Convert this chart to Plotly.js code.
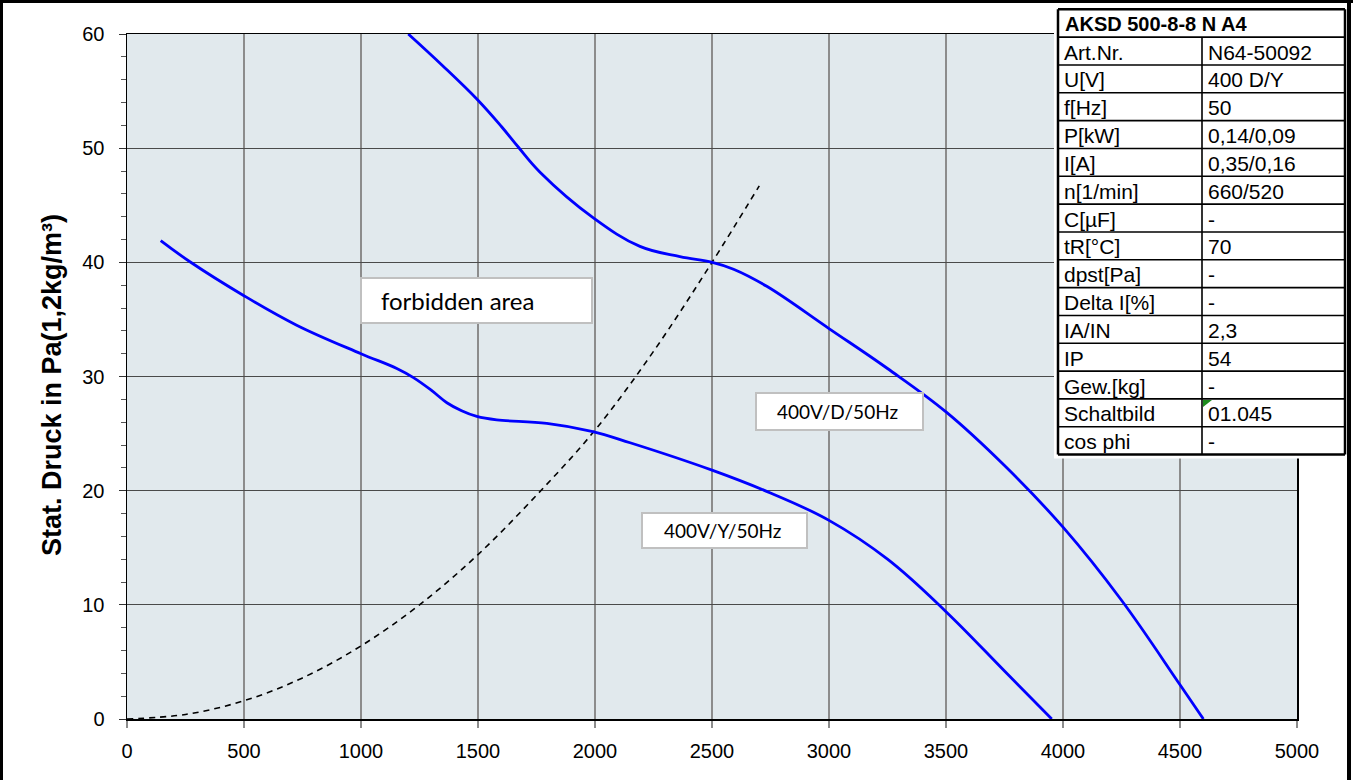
<!DOCTYPE html>
<html>
<head>
<meta charset="utf-8">
<script src="https://cdn.plot.ly/plotly-3.0.1.min.js"></script>
<style>
html,body{margin:0;padding:0;background:#fff;}
#chart{width:1353px;height:780px;}
</style>
</head>
<body>
<div id="chart"></div>
<script>
// ---- data ----
const curveD_x = [1202, 1350, 1500, 1600, 1672, 1765, 1993, 2192, 2363, 2501, 2592, 2734, 3000, 3250, 3500, 3750, 4000, 4250, 4500, 4600];
const curveD_y = [60, 57.2, 54.2, 51.9, 50.1, 47.9, 43.9, 41.4, 40.5, 40.0, 39.4, 37.9, 34.2, 30.7, 26.9, 22.2, 16.8, 10.4, 3.0, 0];

const curveY_x = [144, 269, 498, 725, 1000, 1153, 1224, 1300, 1367, 1430, 1495, 1580, 1794, 1986, 2150, 2500, 2750, 3000, 3250, 3500, 3750, 3952];
const curveY_y = [41.9, 40.05, 37.1, 34.5, 32.0, 30.7, 29.9, 28.8, 27.7, 27.0, 26.5, 26.2, 25.9, 25.2, 24.2, 21.8, 19.8, 17.4, 14.0, 9.4, 4.2, 0];

const limit_x = [0, 250, 500, 750, 1000, 1250, 1500, 1750, 2000, 2250, 2500, 2702];
const limit_y = [0, 0.4, 1.6, 3.6, 6.4, 10.0, 14.4, 19.6, 25.3, 32.2, 40.0, 46.7];

const xTicks = [0, 500, 1000, 1500, 2000, 2500, 3000, 3500, 4000, 4500, 5000];
const yTicks = [0, 10, 20, 30, 40, 50, 60];

const yTitle = "Stat. Druck in Pa(1,2kg/m³)";
const labelForbidden = "forbidden area";
const labelD = "400V/D/50Hz";
const labelY = "400V/Y/50Hz";

const tableHeader = "AKSD 500-8-8 N A4";
const tableKeys = ["Art.Nr.", "U[V]", "f[Hz]", "P[kW]", "I[A]", "n[1/min]", "C[µF]", "tR[°C]", "dpst[Pa]", "Delta I[%]", "IA/IN", "IP", "Gew.[kg]", "Schaltbild", "cos phi"];
const tableVals = ["N64-50092", "400 D/Y", "50", "0,14/0,09", "0,35/0,16", "660/520", "-", "70", "-", "-", "2,3", "54", "-", "01.045", "-"];

// ---- layout helpers (pixel -> paper) ----
const W = 1353, H = 780;
const L = 127, R = 1297, T = 34, B = 719;
const X = px => (px - L) / (R - L);
const Y = py => (B - py) / (B - T);
const FONT = "Liberation Sans, Arial, sans-serif";
const BOXFONT = "Lato, Open Sans, sans-serif";

const traces = [
  {x: limit_x, y: limit_y, mode: 'lines', type: 'scatter',
   line: {color: '#000', width: 1.6, dash: '6px,5px', shape: 'spline', smoothing: 1}, hoverinfo: 'skip'},
  {x: curveY_x, y: curveY_y, mode: 'lines', type: 'scatter',
   line: {color: '#0000ff', width: 2.8, shape: 'spline', smoothing: 1.1}},
  {x: curveD_x, y: curveD_y, mode: 'lines', type: 'scatter',
   line: {color: '#0000ff', width: 2.8, shape: 'spline', smoothing: 1.1}}
];

const shapes = [];
const annotations = [];

// text boxes
function textBox(x0, y0, x1, y1, tx, text, size) {
  shapes.push({type: 'rect', xref: 'paper', yref: 'paper', x0: X(x0), x1: X(x1), y0: Y(y0), y1: Y(y1),
    fillcolor: '#ffffff', line: {color: '#c0c0c0', width: 2}, layer: 'above'});
  annotations.push({xref: 'paper', yref: 'paper', x: X(tx), y: Y((y0 + y1) / 2), xanchor: 'left', yanchor: 'middle',
    text: text, showarrow: false, font: {family: BOXFONT, size: size, color: '#000'}});
}
textBox(361, 278, 592, 323, 379, labelForbidden, 24);
textBox(756, 393, 923, 430, 775, labelD, 19);
textBox(642, 513, 807, 548, 662, labelY, 19);

// table
const tx0 = 1058, tx1 = 1345, tmid = 1202, ty0 = 9.3, rowH = 27.83;
const nRows = tableKeys.length + 1;
shapes.push({type: 'rect', xref: 'paper', yref: 'paper', x0: X(tx0 - 4), x1: X(tx1 + 2), y0: Y(ty0 + nRows * rowH + 4), y1: Y(ty0 - 3),
  fillcolor: '#ffffff', line: {width: 0}, layer: 'above'});
for (let i = 0; i <= nRows; i++) {
  const yy = ty0 + i * rowH;
  shapes.push({type: 'line', xref: 'paper', yref: 'paper', x0: X(tx0), x1: X(tx1), y0: Y(yy), y1: Y(yy),
    line: {color: '#000', width: (i === 0 || i === nRows) ? 2.5 : 1.6}, layer: 'above'});
}
shapes.push({type: 'line', xref: 'paper', yref: 'paper', x0: X(tx0), x1: X(tx0), y0: Y(ty0), y1: Y(ty0 + nRows * rowH),
  line: {color: '#000', width: 2.5}, layer: 'above'});
shapes.push({type: 'line', xref: 'paper', yref: 'paper', x0: X(tx1), x1: X(tx1), y0: Y(ty0), y1: Y(ty0 + nRows * rowH),
  line: {color: '#000', width: 2.5}, layer: 'above'});
shapes.push({type: 'line', xref: 'paper', yref: 'paper', x0: X(tmid), x1: X(tmid), y0: Y(ty0 + rowH), y1: Y(ty0 + nRows * rowH),
  line: {color: '#000', width: 1.6}, layer: 'above'});
annotations.push({xref: 'paper', yref: 'paper', x: X(tx0 + 5), y: Y(ty0 + rowH / 2 + 1), xanchor: 'left', yanchor: 'middle',
  text: '<b>' + tableHeader + '</b>', showarrow: false, font: {family: FONT, size: 20, color: '#000'}});
tableKeys.forEach((k, i) => {
  const cy = ty0 + (i + 1) * rowH + rowH / 2 + 1;
  annotations.push({xref: 'paper', yref: 'paper', x: X(tx0 + 4), y: Y(cy), xanchor: 'left', yanchor: 'middle',
    text: k, showarrow: false, font: {family: FONT, size: 21, color: '#000'}});
  annotations.push({xref: 'paper', yref: 'paper', x: X(tmid + 4), y: Y(cy), xanchor: 'left', yanchor: 'middle',
    text: tableVals[i], showarrow: false, font: {family: FONT, size: 21, color: '#000'}});
});
// green comment marker in the Schaltbild cell
const sIdx = tableKeys.indexOf("Schaltbild") + 1;
const sy = ty0 + sIdx * rowH;
shapes.push({type: 'path', xref: 'paper', yref: 'paper',
  path: `M ${X(tmid + 1)} ${Y(sy + 1)} L ${X(tmid + 10)} ${Y(sy + 1)} L ${X(tmid + 1)} ${Y(sy + 8)} Z`,
  fillcolor: '#1e8c1e', line: {width: 0}, layer: 'above'});

// y axis title
annotations.push({xref: 'paper', yref: 'paper', x: X(52), y: Y(385), xanchor: 'center', yanchor: 'middle',
  text: '<b>' + yTitle + '</b>', textangle: -90, showarrow: false, font: {family: FONT, size: 27, color: '#000'}});

// outer black frame (top, left, right)
shapes.push({type: 'line', xref: 'paper', yref: 'paper', x0: X(0), x1: X(W), y0: Y(1.5), y1: Y(1.5), line: {color: '#000', width: 3}, layer: 'above'});
shapes.push({type: 'line', xref: 'paper', yref: 'paper', x0: X(1.5), x1: X(1.5), y0: Y(0), y1: Y(H), line: {color: '#000', width: 3}, layer: 'above'});
shapes.push({type: 'line', xref: 'paper', yref: 'paper', x0: X(1349), x1: X(1349), y0: Y(0), y1: Y(H), line: {color: '#000', width: 4}, layer: 'above'});

const layout = {
  width: W, height: H,
  margin: {l: L, r: W - R, t: T, b: H - B, pad: 0},
  paper_bgcolor: '#ffffff',
  plot_bgcolor: '#e1e9ed',
  showlegend: false,
  font: {family: FONT, size: 20, color: '#000'},
  xaxis: {
    range: [0, 5000], tickvals: xTicks, ticktext: xTicks.map(String),
    showgrid: true, gridcolor: '#8c8c8c', gridwidth: 1.3,
    zeroline: false, showline: true, linecolor: '#000', linewidth: 1.5, mirror: true,
    ticks: 'outside', ticklen: 7, tickcolor: '#8c8c8c', tickwidth: 1.3,
    tickfont: {family: FONT, size: 20, color: '#000'}, ticklabelstandoff: 6
  },
  yaxis: {
    range: [0, 60], tickvals: yTicks, ticktext: yTicks.map(String),
    showgrid: true, gridcolor: '#4a4a4a', gridwidth: 1,
    zeroline: false, showline: true, linecolor: '#000', linewidth: 1.5, mirror: true,
    ticks: 'outside', ticklen: 7, tickcolor: '#333', tickwidth: 1,
    minor: {dtick: 2, ticks: 'outside', ticklen: 5, tickcolor: '#555', tickwidth: 1, showgrid: false},
    tickfont: {family: FONT, size: 20, color: '#000'}, ticklabelstandoff: 10
  },
  shapes: shapes,
  annotations: annotations
};

Plotly.newPlot('chart', traces, layout, {displayModeBar: false, staticPlot: true});
</script>
</body>
</html>
